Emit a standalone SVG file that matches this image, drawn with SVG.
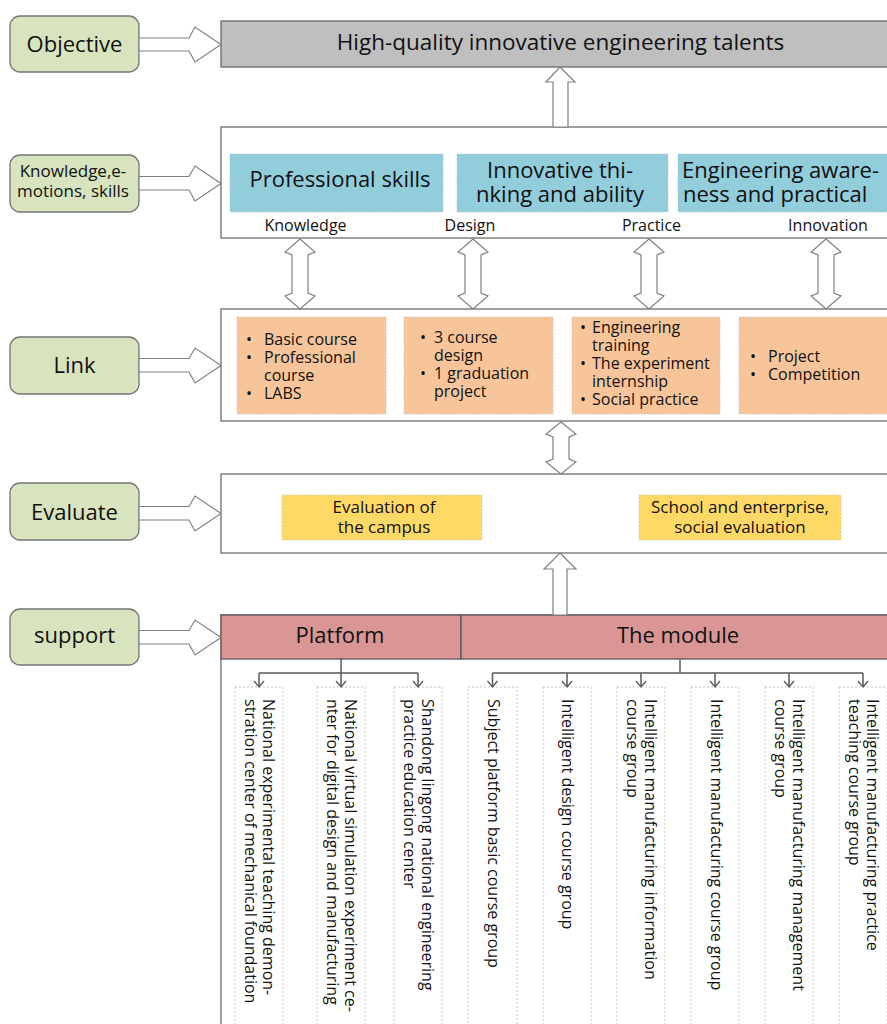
<svg xmlns="http://www.w3.org/2000/svg" width="887" height="1024" viewBox="0 0 887 1024">
<defs>
<style>
text{font-family:"Open Sans","Noto Sans","Liberation Sans",sans-serif;fill:#111}
.lbl{fill:#d7e4bd;stroke:#767676;stroke-width:1.3}
.frame{fill:#fff;stroke:#808080;stroke-width:1.5}
.banner{fill:#bfbfbf;stroke:#7a7a7a;stroke-width:1.5}
.blue{fill:#92cddc;stroke:#b5c4c8;stroke-width:0.8;stroke-dasharray:2 1.5}
.orange{fill:#f8c59a;stroke:#cfc2b8;stroke-width:0.8;stroke-dasharray:2 1.5}
.yellow{fill:#ffd966;stroke:#d0c8a8;stroke-width:0.8;stroke-dasharray:2 1.5}
.red{fill:#d99694;stroke:#5a5a5a;stroke-width:1.3}
.leaf{fill:#fff;stroke:#c4c4c4;stroke-width:1;stroke-dasharray:2 2}
.barr{fill:#fff;stroke:#808080;stroke-width:1.2}
.tree{fill:none;stroke:#595959;stroke-width:1.5}
.gl{font-size:22px;text-anchor:middle}
.gs{font-size:17px;text-anchor:middle}
.big{font-size:22px;text-anchor:middle}
.sub{font-size:16px;text-anchor:middle}
.li{font-size:16px}
.ye{font-size:17px;text-anchor:middle}
.vt{font-size:16px}
</style>
<marker id="chev" viewBox="0 0 10 12" refX="7" refY="6" markerWidth="10" markerHeight="12" markerUnits="userSpaceOnUse" orient="auto">
<path d="M1,1 L7,6 L1,11" fill="none" stroke="#595959" stroke-width="1.3"/>
</marker>
</defs>

<g id="objective">
<rect class="lbl" x="10" y="16" width="129" height="56" rx="10"/>
<text class="gl" x="74.5" y="51.5">Objective</text>
</g>
<g id="knowledge-label">
<rect class="lbl" x="10" y="155" width="129" height="57" rx="10"/>
<text class="gs" x="73" y="177">Knowledge,e-</text>
<text class="gs" x="73" y="197">motions, skills</text>
</g>
<g id="link-label">
<rect class="lbl" x="10" y="337" width="129" height="57" rx="10"/>
<text class="gl" x="74.5" y="373">Link</text>
</g>
<g id="evaluate-label">
<rect class="lbl" x="10" y="483" width="129" height="57" rx="10"/>
<text class="gl" x="74.5" y="520">Evaluate</text>
</g>
<g id="support-label">
<rect class="lbl" x="10" y="609" width="129" height="56" rx="10"/>
<text class="gl" x="74.5" y="643">support</text>
</g>

<g id="goal">
<rect class="banner" x="221" y="21" width="680" height="46"/>
<text x="560.5" y="50" style="font-size:22.5px;text-anchor:middle">High-quality innovative engineering talents</text>
</g>

<g id="knowledge-frame">
<rect class="frame" x="221" y="127" width="680" height="111"/>
</g>
<g id="professional-skills">
<rect class="blue" x="230" y="154" width="213" height="58"/>
<text class="big" x="340" y="187">Professional skills</text>
</g>
<g id="innovative-thinking">
<rect class="blue" x="457" y="154" width="211" height="58"/>
<text class="big" x="560" y="178">Innovative thi-</text>
<text class="big" x="560" y="201.5">nking and ability</text>
</g>
<g id="engineering-awareness">
<rect class="blue" x="678" y="154" width="220" height="58"/>
<text x="682" y="178" style="font-size:22px">Engineering aware-</text>
<text x="683" y="201.5" style="font-size:22px">ness and practical</text>
</g>
<g id="ability-labels">
<text class="sub" x="305.5" y="230.5">Knowledge</text>
<text class="sub" x="470" y="230.5">Design</text>
<text class="sub" x="651.5" y="230.5">Practice</text>
<text class="sub" x="828" y="230.5">Innovation</text>
</g>

<g id="link-frame">
<rect class="frame" x="221" y="309" width="680" height="112"/>
</g>
<g id="courses">
<rect class="orange" x="237" y="317" width="149" height="97"/>
<text class="li" x="246" y="345">•</text><text class="li" x="264" y="345">Basic course</text>
<text class="li" x="246" y="363">•</text><text class="li" x="264" y="363">Professional</text>
<text class="li" x="264" y="381">course</text>
<text class="li" x="246" y="399">•</text><text class="li" x="264" y="399">LABS</text>
</g>
<g id="design-work">
<rect class="orange" x="404" y="317" width="149" height="97"/>
<text class="li" x="420" y="343">•</text><text class="li" x="434" y="343">3 course</text>
<text class="li" x="434" y="361">design</text>
<text class="li" x="420" y="379">•</text><text class="li" x="434" y="379">1 graduation</text>
<text class="li" x="434" y="397">project</text>
</g>
<g id="practice-work">
<rect class="orange" x="572" y="317" width="148" height="97"/>
<text class="li" x="580" y="333">•</text><text class="li" x="592" y="333">Engineering</text>
<text class="li" x="592" y="351">training</text>
<text class="li" x="580" y="369">•</text><text class="li" x="592" y="369">The experiment</text>
<text class="li" x="592" y="387">internship</text>
<text class="li" x="580" y="405">•</text><text class="li" x="592" y="405">Social practice</text>
</g>
<g id="innovation-work">
<rect class="orange" x="739" y="317" width="160" height="97"/>
<text class="li" x="750" y="362">•</text><text class="li" x="768" y="362">Project</text>
<text class="li" x="750" y="380">•</text><text class="li" x="768" y="380">Competition</text>
</g>

<g id="evaluate-frame">
<rect class="frame" x="221" y="474" width="680" height="79"/>
</g>
<g id="campus-evaluation">
<rect class="yellow" x="282" y="495" width="200" height="45"/>
<text class="ye" x="384" y="513">Evaluation of</text>
<text class="ye" x="384" y="533">the campus</text>
</g>
<g id="social-evaluation">
<rect class="yellow" x="639" y="495" width="202" height="45"/>
<text class="ye" x="740" y="513">School and enterprise,</text>
<text class="ye" x="740" y="533">social evaluation</text>
</g>

<g id="support-frame">
<rect class="frame" x="221" y="615" width="680" height="420"/>
</g>
<g id="platform">
<rect class="red" x="221" y="615" width="240" height="44"/>
<text class="big" x="340" y="643">Platform</text>
</g>
<g id="module">
<rect class="red" x="461" y="615" width="440" height="44"/>
<text class="big" x="678" y="643">The module</text>
</g>

<g id="platform-1">
<rect class="leaf" x="235" y="687" width="48" height="345"/>
<text class="vt" transform="translate(263,699) rotate(90)">National experimental teaching demon-</text>
<text class="vt" transform="translate(245,699) rotate(90)">stration center of mechanical foundation</text>
</g>
<g id="platform-2">
<rect class="leaf" x="317" y="687" width="48" height="345"/>
<text class="vt" transform="translate(345,699) rotate(90)">National virtual simulation experiment ce-</text>
<text class="vt" transform="translate(327,699) rotate(90)">nter for digital design and manufacturing</text>
</g>
<g id="platform-3">
<rect class="leaf" x="394" y="687" width="48" height="345"/>
<text class="vt" transform="translate(422,699) rotate(90)">Shandong lingong national engineering</text>
<text class="vt" transform="translate(404,699) rotate(90)">practice education center</text>
</g>
<g id="module-1">
<rect class="leaf" x="468" y="687" width="49" height="345"/>
<text class="vt" transform="translate(488,699) rotate(90)">Subject platform basic course group</text>
</g>
<g id="module-2">
<rect class="leaf" x="543" y="687" width="48" height="345"/>
<text class="vt" transform="translate(562,699) rotate(90)">Intelligent design course group</text>
</g>
<g id="module-3">
<rect class="leaf" x="617" y="687" width="48" height="345"/>
<text class="vt" transform="translate(645,699) rotate(90)">Intelligent manufacturing information</text>
<text class="vt" transform="translate(627,699) rotate(90)">course group</text>
</g>
<g id="module-4">
<rect class="leaf" x="691" y="687" width="48" height="345"/>
<text class="vt" transform="translate(711,699) rotate(90)">Intelligent manufacturing course group</text>
</g>
<g id="module-5">
<rect class="leaf" x="765" y="687" width="48" height="345"/>
<text class="vt" transform="translate(793,699) rotate(90)">Intelligent manufacturing management</text>
<text class="vt" transform="translate(775,699) rotate(90)">course group</text>
</g>
<g id="module-6">
<rect class="leaf" x="839" y="687" width="48" height="345"/>
<text class="vt" transform="translate(867,699) rotate(90)">Intelligent manufacturing practice</text>
<text class="vt" transform="translate(849,699) rotate(90)">teaching course group</text>
</g>

<g id="connectors">
<!-- row arrows -->
<path class="barr" d="M139,38 L189,38 L195,27 L221,44.5 L195,62 L189,51 L139,51 Z"/>
<path class="barr" d="M139,176.5 L189,176.5 L195,166 L221,183.5 L195,201 L189,190 L139,190 Z"/>
<path class="barr" d="M139,358.5 L189,358.5 L195,348 L221,365.5 L195,383 L189,372 L139,372 Z"/>
<path class="barr" d="M139,506.5 L189,506.5 L195,496 L221,513.5 L195,531 L189,520 L139,520 Z"/>
<path class="barr" d="M139,630.5 L189,630.5 L195,620 L221,637.5 L195,655 L189,644 L139,644 Z"/>
<!-- single up arrows -->
<path class="barr" d="M560,67 L575,82 L568,82 L568,127 L553,127 L553,82 L546,82 Z"/>
<path class="barr" d="M560,553 L576,569 L567,569 L567,615 L553,615 L553,569 L544,569 Z"/>
<!-- double arrows -->
<path class="barr" d="M300,239 L315,252 L308,255 L308,293 L315,296 L300,309 L285,296 L292,293 L292,255 L285,252 Z"/>
<path class="barr" d="M473,239 L488,252 L481,255 L481,293 L488,296 L473,309 L458,296 L465,293 L465,255 L458,252 Z"/>
<path class="barr" d="M649,239 L664,252 L657,255 L657,293 L664,296 L649,309 L634,296 L641,293 L641,255 L634,252 Z"/>
<path class="barr" d="M826,239 L841,252 L834,255 L834,293 L841,296 L826,309 L811,296 L818,293 L818,255 L811,252 Z"/>
<path class="barr" d="M561,422 L576,434 L569,437 L569,459 L576,462 L561,474 L546,462 L553,459 L553,437 L546,434 Z"/>
<!-- tree -->
<path class="tree" d="M341,659 V673 M259,673 H418"/>
<path class="tree" d="M259,673 V687" marker-end="url(#chev)"/>
<path class="tree" d="M341,673 V687" marker-end="url(#chev)"/>
<path class="tree" d="M418,673 V687" marker-end="url(#chev)"/>
<path class="tree" d="M680,659 V673 M492.5,673 H863"/>
<path class="tree" d="M492.5,673 V687" marker-end="url(#chev)"/>
<path class="tree" d="M567,673 V687" marker-end="url(#chev)"/>
<path class="tree" d="M641,673 V687" marker-end="url(#chev)"/>
<path class="tree" d="M715,673 V687" marker-end="url(#chev)"/>
<path class="tree" d="M789,673 V687" marker-end="url(#chev)"/>
<path class="tree" d="M863,673 V687" marker-end="url(#chev)"/>
</g>
</svg>
